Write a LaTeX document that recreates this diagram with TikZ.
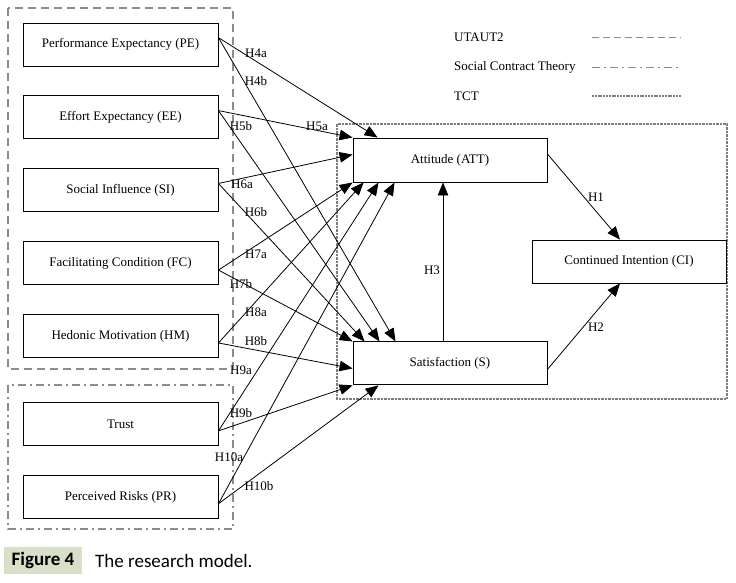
\documentclass[tikz,border=0pt]{standalone}
\usepackage{fontspec}
\setmainfont{Liberation Serif}
\newfontfamily\capfont{Carlito}
\usetikzlibrary{arrows.meta, positioning}
\definecolor{grpgray}{RGB}{140,140,140}
\definecolor{capbg}{RGB}{216,224,200}

\tikzset{
    construct/.style={draw, line width=0.9pt, minimum width=195pt, minimum height=43pt, inner sep=0pt, font=\fontsize{13}{15}\selectfont},
    hyp/.style={-{Triangle[length=13pt,width=10.5pt]}, line width=0.8pt},
    lbl/.style={inner sep=0pt, font=\fontsize{13}{15}\selectfont},
    utaut/.style={grpgray, line width=1.3pt, dash pattern=on 8pt off 5pt},
    sct/.style={grpgray, line width=1.3pt, dash pattern=on 8pt off 4pt on 2pt off 4pt},
    tct/.style={grpgray!90!black, line width=2pt, dash pattern=on 2.5pt off 1pt},
}

\begin{document}
\begin{tikzpicture}[x=1pt, y=-1pt]
        \useasboundingbox (0,0) rectangle (736,582);

        \draw[utaut] (8,8) rectangle (233,369);
        \draw[sct] (8,385) rectangle (233,529);
        \draw[tct] (337,124) rectangle (727,399);

        \node[construct] (PE) at (120.5,44.5) {Performance Expectancy (PE)};
        \node[construct, below = 29pt of PE] (EE) {Effort Expectancy (EE)};
        \node[construct, below = 29pt of EE] (SI) {Social Influence (SI)};
        \node[construct, below = 29pt of SI] (FC) {Facilitating Condition (FC)};
        \node[construct, below = 29pt of FC] (HM) {Hedonic Motivation (HM)};
        \node[construct, below = 44pt of HM] (TR) {Trust};
        \node[construct, below = 29pt of TR] (PR) {Perceived Risks (PR)};

        \node[construct, minimum width=194pt, minimum height=44pt] (ATT) at (450,160) {Attitude (ATT)};
        \node[construct, minimum width=194pt, below = 159pt of ATT] (S) {Satisfaction (S)};
        \node[construct, minimum width=194pt] (CI) at (629,261.5) {Continued Intention (CI)};

        \draw[hyp] (PE.4) -- ([xshift=25pt]ATT.north west);
        \draw[hyp] (PE.4) -- ([xshift=43pt]S.north west);
        \draw[hyp] (EE.4) -- (ATT.north west);
        \draw[hyp] (EE.4) -- ([xshift=27pt]S.north west);
        \draw[hyp] (SI.4) -- ([yshift=-17pt]ATT.north west);
        \draw[hyp] (SI.4) -- ([xshift=12pt]S.north west);
        \draw[hyp] (FC.-4) -- (ATT.south west);
        \draw[hyp] (FC.-4) -- (S.north west);
        \draw[hyp] (HM.-4) -- ([xshift=11pt]ATT.south west);
        \draw[hyp] (HM.-4) -- ([yshift=-27pt]S.north west);
        \draw[hyp] (TR.-4) -- ([xshift=26pt]ATT.south west);
        \draw[hyp] (TR.-4) -- (S.south west);
        \draw[hyp] (PR.-4) -- ([xshift=42pt]ATT.south west);
        \draw[hyp] (PR.-4) -- ([xshift=26pt]S.south west);

        \draw[hyp] ([yshift=6pt]ATT.east) -- ([xshift=-9pt]CI.north);
        \draw[hyp] ([yshift=-6pt]S.east) -- ([xshift=-9pt]CI.south);
        \draw[hyp] ([xshift=-7pt]S.north) -- ([xshift=-7pt]ATT.south);

        \node[lbl] (h4a) at (256,53) {H4a};
        \node[lbl] (h4b) at (256,81) {H4b};
        \node[lbl] (h5b) at (241,126) {H5b};
        \node[lbl] (h5a) at (317,126) {H5a};
        \node[lbl] (h6a) at (242,184) {H6a};
        \node[lbl] (h6b) at (256,212) {H6b};
        \node[lbl] (h7a) at (256,254) {H7a};
        \node[lbl] (h7b) at (241,284) {H7b};
        \node[lbl] (h8a) at (256,312) {H8a};
        \node[lbl] (h8b) at (256,341) {H8b};
        \node[lbl] (h9a) at (241,370) {H9a};
        \node[lbl] (h9b) at (241,413) {H9b};
        \node[lbl] (h10a) at (229,457) {H10a};
        \node[lbl] (h10b) at (259,486) {H10b};
        \node[lbl] (h1) at (596,197) {H1};
        \node[lbl] (h2) at (596,327) {H2};
        \node[lbl] (h3) at (432,270) {H3};

        \node[lbl, anchor=west] (lgu) at (454,37) {UTAUT2};
        \node[lbl, anchor=west] (lgs) at (454,67) {Social Contract Theory};
        \node[lbl, anchor=west] (lgt) at (454,96) {TCT};
        \draw[utaut, line width=1pt, dash pattern=on 7pt off 4pt] (592,37) -- (681,37);
        \draw[sct, line width=1pt] (592,67) -- (681,67);
        \draw[tct, line width=1.3pt, dash pattern=on 2pt off 0.8pt] (592,96) -- (681,96);

        \node[fill=capbg, minimum width=78pt, minimum height=27pt, inner sep=0pt, font=\capfont\bfseries\fontsize{19}{21}\selectfont] (fig) at (43,560.5) {Figure 4};
        \node[anchor=west, inner sep=0pt, font=\capfont\fontsize{19}{21}\selectfont] (cap) at (95,560.5) {The research model.};
\end{tikzpicture}
\end{document}
